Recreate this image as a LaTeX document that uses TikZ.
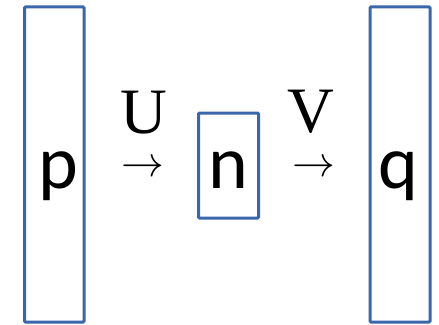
\documentclass[tikz,border=0pt]{standalone}
\usepackage{fontspec}
\setmainfont{Carlito}
\newfontfamily\serifU{Liberation Serif}
\definecolor{boxblue}{RGB}{58,103,172}
\begin{document}
\begin{tikzpicture}[x=1bp,y=1bp,
  box/.style={draw=boxblue,line width=3bp,inner sep=0pt,rounded corners=1bp},
  lbl/.style={anchor=base,inner sep=0pt,font=\fontsize{76}{80}\selectfont},
  mat/.style={anchor=base,inner sep=0pt,font=\serifU\fontsize{65}{70}\selectfont},
  arr/.style={anchor=base,inner sep=0pt,scale=4.3}]
\useasboundingbox (0,0) rectangle (439,324);
\node[box,minimum width=59.5bp,minimum height=315bp] (pbox) at (54.25,159.5) {};
\node[box,minimum width=60bp,minimum height=105bp] (nbox) at (228.5,158.5) {};
\node[box,minimum width=60bp,minimum height=315bp] (qbox) at (400,159.5) {};
\node[lbl] (p) at (58,136) {p};
\node[lbl] (n) at (228,136) {n};
\node[lbl] (q) at (398.5,136) {q};
\node[mat] (U) at (144,191) {U};
\node[mat] (V) at (311,192) {V};
\node[arr] (a1) at (142.5,148) {\smash{$\rightarrow$}};
\node[arr] (a2) at (313.5,148) {\smash{$\rightarrow$}};
\end{tikzpicture}
\end{document}
